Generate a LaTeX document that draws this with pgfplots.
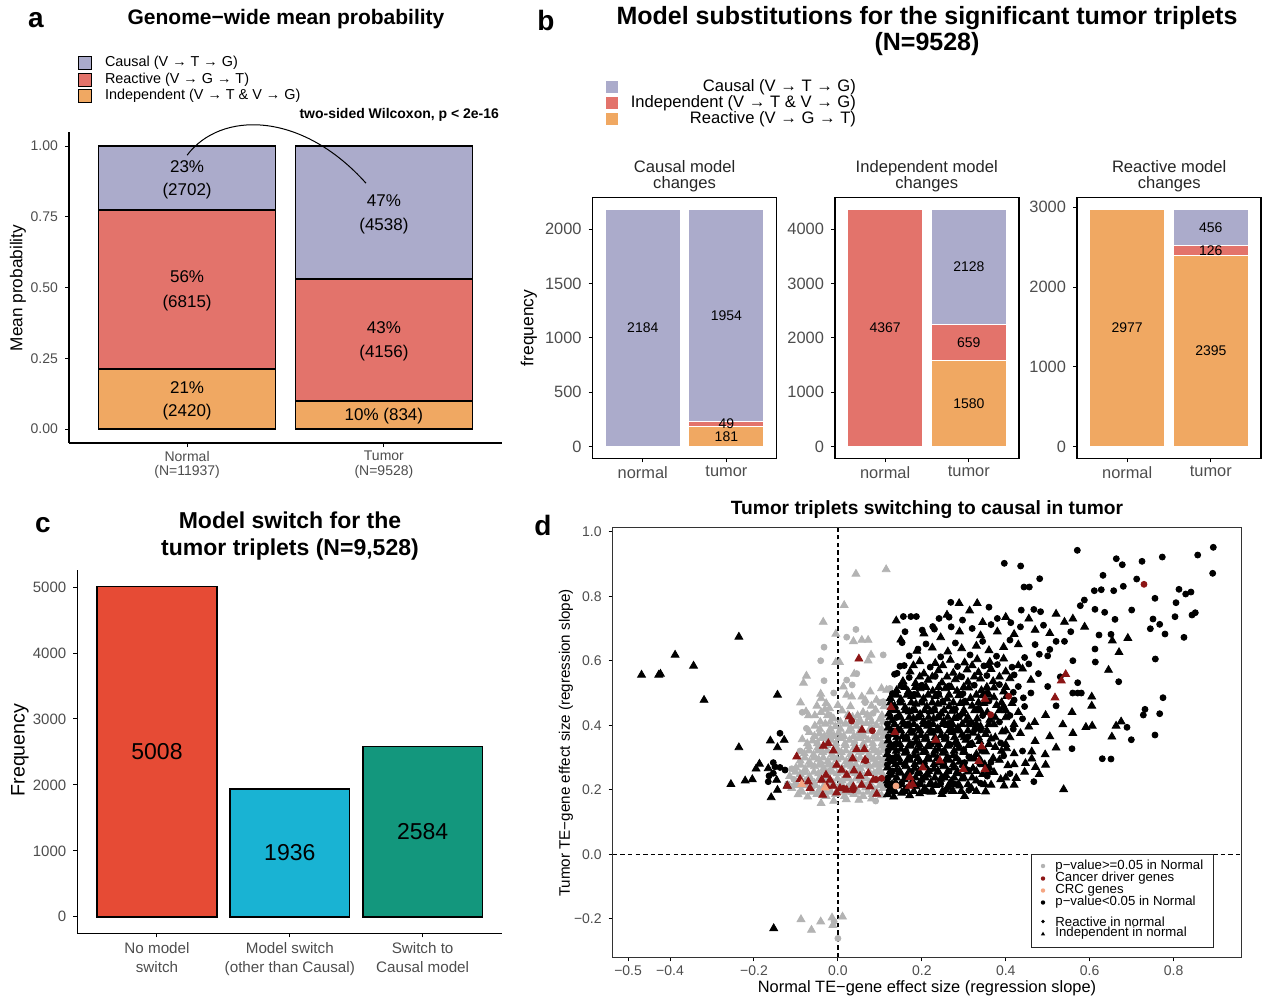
\documentclass[border=0pt]{standalone}
\usepackage{fontspec}
\setmainfont{Liberation Sans}
\usepackage{pgfplots}
\pgfplotsset{compat=1.18}
\definecolor{causal}{HTML}{ABABCB}
\definecolor{salmon}{HTML}{E3736B}
\definecolor{apricot}{HTML}{F0A862}
\definecolor{cred}{HTML}{E64B35}
\definecolor{ccyan}{HTML}{19B3D3}
\definecolor{cteal}{HTML}{13977D}
\definecolor{ptgray}{HTML}{B3B3B3}
\definecolor{ptred}{HTML}{8C1515}
\definecolor{ptorange}{HTML}{F4A582}
\definecolor{tickgray}{HTML}{4D4D4D}
\newcommand\fs[2]{\fontsize{#1pt}{#2pt}\selectfont}
\tikzset{alab/.style={font=\fs{8.5}{9}}, blab/.style={font=\fs{7}{7}}, clab/.style={font=\fs{11.5}{12}},
  dleg/.style={font=\fs{6.6}{7}, anchor=west, inner sep=0pt}}
\pgfplotsset{
  base/.style={scale only axis, enlargelimits=false, scaled ticks=false,
    tick label style={text=tickgray}, major tick length=2pt, tick align=outside,
    /pgf/number format/assume math mode=true,
    major tick style={line width=0.5pt, black}, xtick pos=left, ytick pos=left},
  classic/.style={base, axis x line*=bottom, axis y line*=left,
    x axis line style={-, line width=0.55pt}, y axis line style={-, line width=0.55pt}},
  boxed/.style={base, axis line style={line width=0.6pt}},
}
\begin{document}
\begin{tikzpicture}
\path[use as bounding box] (0,0) rectangle (631.5pt,-498.5pt);
% panel letters
\node[font=\fs{14}{14}\bfseries] at (18pt,-10pt) {a};
\node[font=\fs{14}{14}\bfseries] at (273pt,-10pt) {b};
\node[font=\fs{14}{14}\bfseries] at (21.5pt,-262.5pt) {c};
\node[font=\fs{14}{14}\bfseries] at (271.5pt,-262.5pt) {d};
% ---------------- panel a ----------------
\node[font=\fs{10.5}{11}\bfseries] at (143pt,-9.5pt) {Genome−wide mean probability};
\filldraw[fill=causal, draw=black, line width=0.9pt] (39.25pt,-28.25pt) rectangle (45.75pt,-34.75pt);
\filldraw[fill=salmon, draw=black, line width=0.9pt] (39.25pt,-36.75pt) rectangle (45.75pt,-43.25pt);
\filldraw[fill=apricot, draw=black, line width=0.9pt] (39.25pt,-44.75pt) rectangle (45.75pt,-51.25pt);
\node[font=\fs{7.2}{8}, anchor=west] at (49pt,-31.5pt) {Causal (V → T → G)};
\node[font=\fs{7.2}{8}, anchor=west] at (49pt,-40pt) {Reactive (V → G → T)};
\node[font=\fs{7.2}{8}, anchor=west] at (49pt,-48pt) {Independent (V → T \& V → G)};
\node[font=\fs{7}{8}\bfseries, anchor=east] at (253pt,-57.5pt) {two-sided Wilcoxon, p < 2e-16};
\node[font=\fs{8.6}{9}, rotate=90] at (9pt,-144pt) {Mean probability};
\begin{axis}[classic, at={(34.5pt,-221.5pt)}, anchor=south west, width=216.5pt, height=155.5pt,
  xmin=0.4, xmax=2.6, ymin=-0.0495, ymax=1.05, ybar stacked, bar width=0.9, clip=false,
  xtick={1,2}, xticklabels={Normal\\(N=11937),Tumor\\(N=9528)},
  xticklabel style={align=center, font=\fs{7}{7.2}, yshift=1.5pt},
  ytick={0,0.25,0.5,0.75,1}, yticklabels={0.00,0.25,0.50,0.75,1.00},
  yticklabel style={font=\fs{7}{7.5}}]
\addplot[fill=apricot, draw=black, line width=0.8pt] coordinates {(1,0.213) (2,0.100)};
\addplot[fill=salmon, draw=black, line width=0.8pt] coordinates {(1,0.562) (2,0.430)};
\addplot[fill=causal, draw=black, line width=0.8pt] coordinates {(1,0.225) (2,0.470)};
\end{axis}
\begin{axis}[at={(34.5pt,-221.5pt)}, anchor=south west, scale only axis, width=216.5pt, height=155.5pt,
  xmin=0.4, xmax=2.6, ymin=-0.0495, ymax=1.05, axis lines=none, clip=false]
\draw[line width=0.5pt] (axis cs:1,0.968) .. controls (axis cs:1.17,1.125) and (axis cs:1.58,1.125) .. (axis cs:1.909,0.869);
\node[alab] at (axis cs:1,0.929) {23\%}; \node[alab] at (axis cs:1,0.841) {(2702)};
\node[alab] at (axis cs:1,0.537) {56\%}; \node[alab] at (axis cs:1,0.445) {(6815)};
\node[alab] at (axis cs:1,0.148) {21\%}; \node[alab] at (axis cs:1,0.060) {(2420)};
\node[alab] at (axis cs:2,0.809) {47\%}; \node[alab] at (axis cs:2,0.717) {(4538)};
\node[alab] at (axis cs:2,0.357) {43\%}; \node[alab] at (axis cs:2,0.269) {(4156)};
\node[alab] at (axis cs:2,0.046) {10\% (834)};
\end{axis}
% ---------------- panel b ----------------
\node[font=\fs{12.5}{11.3}\bfseries, align=center] at (463.5pt,-15.5pt) {Model substitutions for the significant tumor triplets\\(N=9528)};
\fill[causal] (303pt,-40.5pt) rectangle (309pt,-46.5pt);
\fill[salmon] (303pt,-48.5pt) rectangle (309pt,-54.5pt);
\fill[apricot] (303pt,-56.5pt) rectangle (309pt,-62.5pt);
\node[font=\fs{8.3}{9}, anchor=east] at (431.5pt,-43.5pt) {Causal (V → T → G)};
\node[font=\fs{8.3}{9}, anchor=east] at (431.5pt,-51.5pt) {Independent (V → T \& V → G)};
\node[font=\fs{8.3}{9}, anchor=east] at (431.5pt,-59.5pt) {Reactive (V → G → T)};
\node[font=\fs{8.3}{8}, align=center, text=black!85] at (342.3pt,-88pt) {Causal model\\changes};
\node[font=\fs{8.3}{8}, align=center, text=black!85] at (463.4pt,-88pt) {Independent model\\changes};
\node[font=\fs{8.3}{8}, align=center, text=black!85] at (584.6pt,-88pt) {Reactive model\\changes};
\node[font=\fs{8.7}{9}, rotate=90] at (264.5pt,-164pt) {frequency};
\pgfplotsset{bsub/.style={boxed, anchor=south west, width=92pt, height=130.5pt,
  xmin=0.4, xmax=2.6, ybar stacked, bar width=0.9,
  xtick={1,2}, xticklabels={normal,tumor}, tick label style={font=\fs{8.2}{9}},
  xticklabel style={yshift=1.5pt}}}
\begin{axis}[bsub, at={(296.3pt,-229.15pt)}, ymin=-109.2, ymax=2293.2,
  ytick={0,500,1000,1500,2000}, yticklabels={0,500,1000,1500,2000}]
\addplot[fill=apricot, draw=white, line width=0.6pt] coordinates {(1,0) (2,181)};
\addplot[fill=salmon, draw=white, line width=0.6pt] coordinates {(1,0) (2,49)};
\addplot[fill=causal, draw=white, line width=0.6pt] coordinates {(1,2184) (2,1954)};
\end{axis}
\begin{axis}[at={(296.3pt,-229.15pt)}, anchor=south west, scale only axis, width=92pt, height=130.5pt,
  xmin=0.4, xmax=2.6, ymin=-109.2, ymax=2293.2, axis lines=none]
\node[blab] at (axis cs:1,1092) {2184}; \node[blab] at (axis cs:2,1207) {1954};
\node[blab] at (axis cs:2,205.5) {49}; \node[blab] at (axis cs:2,90.5) {181};
\end{axis}
\begin{axis}[bsub, at={(417.5pt,-229.15pt)}, ymin=-218.35, ymax=4585.35,
  ytick={0,1000,2000,3000,4000}, yticklabels={0,1000,2000,3000,4000}]
\addplot[fill=apricot, draw=white, line width=0.6pt] coordinates {(1,0) (2,1580)};
\addplot[fill=salmon, draw=white, line width=0.6pt] coordinates {(1,4367) (2,659)};
\addplot[fill=causal, draw=white, line width=0.6pt] coordinates {(1,0) (2,2128)};
\end{axis}
\begin{axis}[at={(417.5pt,-229.15pt)}, anchor=south west, scale only axis, width=92pt, height=130.5pt,
  xmin=0.4, xmax=2.6, ymin=-218.35, ymax=4585.35, axis lines=none]
\node[blab] at (axis cs:1,2183.5) {4367}; \node[blab] at (axis cs:2,3303) {2128};
\node[blab] at (axis cs:2,1909.5) {659}; \node[blab] at (axis cs:2,790) {1580};
\end{axis}
\begin{axis}[bsub, at={(538.5pt,-229.15pt)}, ymin=-148.85, ymax=3125.85,
  ytick={0,1000,2000,3000}, yticklabels={0,1000,2000,3000}]
\addplot[fill=apricot, draw=white, line width=0.6pt] coordinates {(1,2977) (2,2395)};
\addplot[fill=salmon, draw=white, line width=0.6pt] coordinates {(1,0) (2,126)};
\addplot[fill=causal, draw=white, line width=0.6pt] coordinates {(1,0) (2,456)};
\end{axis}
\begin{axis}[at={(538.5pt,-229.15pt)}, anchor=south west, scale only axis, width=92pt, height=130.5pt,
  xmin=0.4, xmax=2.6, ymin=-148.85, ymax=3125.85, axis lines=none]
\node[blab] at (axis cs:1,1488.5) {2977}; \node[blab] at (axis cs:2,2749) {456};
\node[blab] at (axis cs:2,2458) {126}; \node[blab] at (axis cs:2,1197.5) {2395};
\end{axis}
% ---------------- panel c ----------------
\node[font=\fs{11.5}{13.5}\bfseries, align=center] at (145pt,-268pt) {Model switch for the\\tumor triplets (N=9,528)};
\node[font=\fs{9.8}{10}, rotate=90] at (10pt,-375pt) {Frequency};
\begin{axis}[classic, at={(38.65pt,-466.65pt)}, anchor=south west, width=212.5pt, height=181.65pt,
  xmin=0.4, xmax=3.6, ymin=-250.4, ymax=5258.4, ybar, bar width=0.9, bar shift=0pt,
  xtick={1,2,3}, xticklabels={No model\\switch,Model switch\\(other than Causal),Switch to\\Causal model},
  xticklabel style={align=center, font=\fs{7.6}{9.5}, yshift=1pt},
  ytick={0,1000,2000,3000,4000,5000}, yticklabels={0,1000,2000,3000,4000,5000},
  yticklabel style={font=\fs{7.5}{8}}]
\addplot[fill=cred, draw=black, line width=0.8pt] coordinates {(1,5008)};
\addplot[fill=ccyan, draw=black, line width=0.8pt] coordinates {(2,1936)};
\addplot[fill=cteal, draw=black, line width=0.8pt] coordinates {(3,2584)};
\end{axis}
\begin{axis}[at={(38.65pt,-466.65pt)}, anchor=south west, scale only axis, width=212.5pt, height=181.65pt,
  xmin=0.4, xmax=3.6, ymin=-250.4, ymax=5258.4, axis lines=none]
\node[clab] at (axis cs:1,2504) {5008}; \node[clab] at (axis cs:2,968) {1936}; \node[clab] at (axis cs:3,1292) {2584};
\end{axis}
% ---------------- panel d ----------------
\node[font=\fs{9.6}{10}\bfseries] at (463.5pt,-255pt) {Tumor triplets switching to causal in tumor};
\node[font=\fs{8.2}{9}] at (463.5pt,-494pt) {Normal TE−gene effect size (regression slope)};
\node[font=\fs{7.6}{9}, rotate=90] at (283pt,-371.5pt) {Tumor TE−gene effect size (regression slope)};
\pgfplotsset{gc/.style={only marks, mark=*, mark size=1.5pt, color=ptgray},
  gt/.style={only marks, mark=triangle*, mark size=2.25pt, color=ptgray},
  kc/.style={only marks, mark=*, mark size=1.5pt, color=black},
  kt/.style={only marks, mark=triangle*, mark size=2.25pt, color=black},
  rc/.style={only marks, mark=*, mark size=1.5pt, color=ptred},
  rt/.style={only marks, mark=triangle*, mark size=2.25pt, color=ptred}}
\begin{axis}[boxed, at={(306.35pt,-478.65pt)}, anchor=south west, width=314.3pt, height=214.8pt,
  xmin=-0.5367, xmax=0.9614, ymin=-0.3197, ymax=1.0124,
  axis line style={line width=0.6pt, black!80},
  xtick={-0.5,-0.4,-0.2,0,0.2,0.4,0.6,0.8}, xticklabels={−0.5,−0.4,−0.2,0.0,0.2,0.4,0.6,0.8},
  ytick={-0.2,0,0.2,0.4,0.6,0.8,1.0}, yticklabels={−0.2,0.0,0.2,0.4,0.6,0.8,1.0},
  tick label style={font=\fs{7}{8}}, xticklabel style={yshift=1.5pt}]
% gray circles
\addplot[gc] coordinates {(-0.041,0.600) (0.043,0.697) (0.021,0.673) (-0.033,0.642) (0.108,0.618)
 (-0.033,0.538) (0.021,0.540) (0.034,0.525) (0.100,0.470) (0.124,0.514) (0.084,0.437) (0.108,0.473)
 (0.000,-0.261) (-0.009,-0.209) (-0.105,0.232) (-0.060,0.210) (0.005,0.212) (0.070,0.215) (-0.080,0.255)
 (-0.020,0.258) (0.048,0.258) (0.100,0.256) (-0.040,0.280) (0.030,0.280) (0.095,0.280) (-0.090,0.320)
 (-0.005,0.322) (0.062,0.322) (-0.050,0.345) (0.040,0.345) (0.110,0.345) (-0.020,0.368) (0.060,0.368)
 (-0.075,0.390) (0.030,0.390) (0.080,0.392) (-0.020,0.432) (0.050,0.412) (-0.110,0.265) (-0.120,0.218)
 (0.112,0.300) (0.112,0.380) (0.110,0.225) (-0.030,0.190) (0.030,0.192) (0.090,0.165) (-0.085,0.440)
 (0.065,0.470) (-0.010,0.500) (0.045,0.560)};
% gray triangles
\addplot[gt] coordinates {(0.115,0.883) (0.043,0.869) (0.015,0.772) (-0.035,0.720) (-0.005,0.683)
 (0.037,0.660) (0.057,0.664) (0.072,0.664) (-0.005,0.595) (0.004,0.595) (0.079,0.618) (0.072,0.600)
 (-0.075,0.553) (-0.082,0.531) (0.039,0.559) (-0.089,0.470) (-0.076,0.442) (-0.041,0.497) (-0.040,0.483)
 (-0.028,0.468) (-0.031,0.449) (-0.020,0.452) (0.013,0.519) (0.021,0.494) (0.033,0.488) (0.057,0.488)
 (0.065,0.478) (0.077,0.504) (0.092,0.478) (0.104,0.514) (0.116,0.509)
 (-0.088,-0.202) (-0.063,-0.235) (-0.041,-0.209) (-0.014,-0.197) (-0.012,-0.220) (0.011,-0.194)
 (-0.040,0.158) (-0.010,0.165) (0.020,0.170) (0.050,0.168) (0.080,0.172)
 (-0.095,0.185) (-0.072,0.178) (-0.050,0.186) (-0.028,0.180) (-0.006,0.186) (0.016,0.180) (0.038,0.186) (0.060,0.180) (0.082,0.186) (0.104,0.182)
 (-0.110,0.205) (-0.088,0.198) (-0.066,0.206) (-0.044,0.200) (-0.022,0.206) (0.000,0.200) (0.022,0.206) (0.044,0.200) (0.066,0.206) (0.088,0.200) (0.108,0.205)
 (-0.100,0.222) (-0.078,0.226) (-0.056,0.220) (-0.034,0.228) (-0.012,0.222) (0.010,0.228) (0.032,0.222) (0.054,0.228) (0.076,0.222) (0.098,0.228)
 (-0.115,0.242) (-0.090,0.248) (-0.068,0.242) (-0.046,0.250) (-0.024,0.242) (-0.002,0.250) (0.020,0.242) (0.042,0.250) (0.064,0.242) (0.086,0.250) (0.108,0.244)
 (-0.100,0.268) (-0.078,0.264) (-0.056,0.272) (-0.034,0.266) (-0.012,0.272) (0.010,0.266) (0.032,0.272) (0.054,0.266) (0.076,0.272) (0.098,0.266)
 (-0.090,0.290) (-0.068,0.286) (-0.046,0.294) (-0.024,0.288) (-0.002,0.294) (0.020,0.288) (0.042,0.294) (0.064,0.288) (0.086,0.294) (0.106,0.290)
 (-0.080,0.312) (-0.058,0.308) (-0.036,0.316) (-0.014,0.310) (0.008,0.316) (0.030,0.310) (0.052,0.316) (0.074,0.310) (0.096,0.316)
 (-0.070,0.334) (-0.048,0.330) (-0.026,0.338) (-0.004,0.332) (0.018,0.338) (0.040,0.332) (0.062,0.338) (0.084,0.332) (0.106,0.336)
 (-0.085,0.356) (-0.060,0.352) (-0.038,0.360) (-0.016,0.354) (0.006,0.360) (0.028,0.354) (0.050,0.360) (0.072,0.354) (0.094,0.358)
 (-0.068,0.378) (-0.044,0.374) (-0.020,0.380) (0.002,0.376) (0.026,0.382) (0.050,0.376) (0.074,0.382) (0.098,0.376)
 (-0.055,0.398) (-0.030,0.404) (-0.006,0.396) (0.018,0.404) (0.044,0.398) (0.068,0.406) (0.092,0.400)
 (-0.010,0.420) (0.035,0.425) (0.075,0.425) (0.100,0.418) (-0.040,0.440) (0.010,0.445) (0.060,0.440) (0.090,0.447) (-0.070,0.430)};
% gray triangles, dense core
\addplot[gt] coordinates {
 (-0.085,0.193) (-0.061,0.193) (-0.039,0.193) (-0.017,0.193) (0.005,0.193) (0.027,0.193) (0.049,0.193) (0.071,0.193) (0.093,0.193)
 (-0.099,0.213) (-0.077,0.213) (-0.055,0.213) (-0.033,0.213) (-0.011,0.213) (0.011,0.213) (0.033,0.213) (0.055,0.213) (0.077,0.213) (0.099,0.213)
 (-0.089,0.234) (-0.067,0.234) (-0.045,0.234) (-0.023,0.234) (-0.001,0.234) (0.021,0.234) (0.043,0.234) (0.065,0.234) (0.087,0.234) (0.109,0.234)
 (-0.101,0.255) (-0.079,0.255) (-0.057,0.255) (-0.035,0.255) (-0.013,0.255) (0.009,0.255) (0.031,0.255) (0.053,0.255) (0.075,0.255) (0.097,0.255)
 (-0.089,0.277) (-0.067,0.277) (-0.045,0.277) (-0.023,0.277) (-0.001,0.277) (0.021,0.277) (0.043,0.277) (0.065,0.277) (0.087,0.277) (0.109,0.277)
 (-0.079,0.299) (-0.057,0.299) (-0.035,0.299) (-0.013,0.299) (0.009,0.299) (0.031,0.299) (0.053,0.299) (0.075,0.299) (0.097,0.299)
 (-0.069,0.321) (-0.047,0.321) (-0.025,0.321) (-0.003,0.321) (0.019,0.321) (0.041,0.321) (0.063,0.321) (0.085,0.321) (0.107,0.321)
 (-0.073,0.343) (-0.049,0.343) (-0.027,0.343) (-0.005,0.343) (0.017,0.343) (0.039,0.343) (0.061,0.343) (0.083,0.343) (0.105,0.343)
 (-0.056,0.366) (-0.032,0.366) (-0.009,0.366) (0.014,0.366) (0.038,0.366) (0.062,0.366) (0.086,0.366) (0.108,0.366)
 (-0.043,0.388) (-0.018,0.388) (0.006,0.388) (0.031,0.388) (0.056,0.388) (0.080,0.388) (0.104,0.388)
 (-0.042,0.410) (-0.018,0.410) (0.006,0.410) (0.030,0.410) (0.055,0.410) (0.080,0.410) (0.108,0.410)
 (-0.055,0.430) (-0.025,0.430) (0.024,0.432) (0.047,0.430) (0.070,0.432) (0.105,0.430)
 (-0.050,0.460) (0.000,0.462) (0.030,0.458) (0.080,0.460) (0.110,0.458)};
% black circles
\addplot[kc] coordinates {(0.5706,0.9423) (0.3966,0.902) (0.4356,0.8937) (0.4809,0.8543) (0.4435,0.8285)
 (0.4562,0.8285) (0.6318,0.8648) (0.6635,0.9163) (0.6778,0.8977) (0.7248,0.9082) (0.7731,0.9215)
 (0.8575,0.9277) (0.8947,0.9516) (0.8932,0.8710) (0.7121,0.8533) (0.6111,0.8171) (0.6277,0.8202)
 (0.6573,0.8171) (0.6802,0.8307) (0.7557,0.7935) (0.8129,0.8214) (0.8289,0.8068) (0.8415,0.8130)
 (0.8058,0.7799) (0.7002,0.7572) (0.6127,0.7594) (0.6358,0.7501) (0.5777,0.7706) (0.5873,0.7882)
 (0.6604,0.7283) (0.7510,0.7293) (0.7669,0.7128) (0.7446,0.6992) (0.7796,0.6828) (0.8034,0.7365)
 (0.8518,0.7489) (0.8439,0.7417) (0.8248,0.6725) (0.6223,0.6797) (0.6509,0.6818) (0.6127,0.6363)
 (0.6135,0.5960) (0.7565,0.6053) (0.6692,0.5349) (0.7748,0.4853) (0.7319,0.4493) (0.7279,0.4316)
 (0.7669,0.4357) (0.6890,0.3935) (0.6993,0.3550) (0.7557,0.3696) (0.5579,0.3271) (0.6301,0.2961)
 (0.6509,0.2952) (0.5596,0.4998) (0.5715,0.4998) (0.5801,0.4998) (0.5715,0.5318) (0.467,0.225)
 (-0.138,0.375) (-0.154,0.284) (-0.150,0.271) (-0.138,0.269) (-0.126,0.261) (-0.164,0.243) (-0.166,0.225) (-0.154,0.251)
 (0.141,0.561) (0.148,0.583) (0.153,0.656) (0.191,0.636)
 (0.126,0.195) (0.160,0.198) (0.210,0.196) (0.258,0.200) (0.312,0.198)
 (0.118,0.215) (0.152,0.220) (0.196,0.218) (0.245,0.219) (0.278,0.218) (0.340,0.220)
 (0.120,0.238) (0.160,0.240) (0.204,0.238) (0.250,0.240) (0.298,0.240) (0.356,0.242) (0.410,0.250)
 (0.130,0.258) (0.175,0.256) (0.218,0.258) (0.265,0.258) (0.312,0.260) (0.338,0.280)
 (0.118,0.278) (0.160,0.280) (0.206,0.282) (0.252,0.280) (0.302,0.284) (0.365,0.285)
 (0.130,0.298) (0.172,0.300) (0.216,0.300) (0.262,0.300) (0.312,0.302) (0.395,0.305)
 (0.120,0.322) (0.162,0.320) (0.205,0.322) (0.252,0.320) (0.300,0.324) (0.342,0.325) (0.440,0.320)
 (0.134,0.340) (0.176,0.342) (0.222,0.340) (0.268,0.340) (0.318,0.344) (0.388,0.345)
 (0.120,0.364) (0.164,0.362) (0.210,0.362) (0.258,0.362) (0.310,0.364) (0.340,0.385)
 (0.132,0.382) (0.178,0.382) (0.226,0.382) (0.274,0.384) (0.326,0.386) (0.418,0.388)
 (0.118,0.404) (0.168,0.404) (0.216,0.406) (0.266,0.406) (0.318,0.408) (0.385,0.410)
 (0.140,0.424) (0.192,0.426) (0.240,0.426) (0.290,0.428) (0.345,0.430) (0.410,0.430)
 (0.128,0.450) (0.180,0.448) (0.230,0.450) (0.280,0.450) (0.335,0.452) (0.395,0.455) (0.445,0.458)
 (0.148,0.472) (0.200,0.472) (0.250,0.474) (0.302,0.474) (0.360,0.475) (0.420,0.478)
 (0.130,0.498) (0.182,0.496) (0.240,0.498) (0.298,0.498) (0.356,0.500) (0.418,0.502) (0.442,0.485)
 (0.150,0.522) (0.200,0.524) (0.265,0.522) (0.325,0.524) (0.385,0.526) (0.430,0.520)
 (0.135,0.558) (0.170,0.548) (0.232,0.552) (0.295,0.550) (0.355,0.554) (0.420,0.556) (0.478,0.560)
 (0.158,0.585) (0.220,0.580) (0.285,0.582) (0.348,0.584) (0.380,0.588) (0.415,0.580) (0.455,0.590)
 (0.170,0.615) (0.245,0.612) (0.315,0.618) (0.378,0.614) (0.445,0.610) (0.500,0.615)
 (0.210,0.652) (0.280,0.655) (0.345,0.660) (0.410,0.664) (0.470,0.650) (0.540,0.660) (0.505,0.635)
 (0.160,0.690) (0.230,0.698) (0.270,0.705) (0.320,0.700) (0.365,0.712) (0.435,0.705) (0.490,0.710) (0.555,0.690)
 (0.156,0.737) (0.174,0.737) (0.187,0.737) (0.241,0.731) (0.265,0.735) (0.297,0.726) (0.380,0.731)
 (0.412,0.718) (0.269,0.781) (0.360,0.766) (0.437,0.757) (0.467,0.759) (0.483,0.752) (0.201,0.695) (0.226,0.706)
 (0.440,0.420) (0.520,0.460) (0.500,0.520) (0.460,0.500) (0.530,0.550) (0.560,0.600) (0.480,0.620) (0.520,0.660)};
% black triangles
\addplot[kt] coordinates {(-0.468,0.556) (-0.427,0.556) (-0.423,0.559) (-0.388,0.618) (-0.344,0.584)
 (-0.319,0.478) (-0.236,0.674) (-0.144,0.494) (-0.236,0.331) (-0.255,0.217) (-0.221,0.228) (-0.204,0.232)
 (-0.187,0.280) (-0.195,0.265) (-0.161,0.352) (-0.144,0.331) (-0.128,0.354) (-0.166,0.266) (-0.146,0.230)
 (-0.144,0.199) (-0.159,0.176) (-0.121,0.212) (-0.153,-0.230)
 (0.118,0.185) (0.133,0.178) (0.152,0.190) (0.171,0.182) (0.195,0.188) (0.222,0.193) (0.248,0.186) (0.275,0.195) (0.302,0.180) (0.352,0.194) (0.396,0.212)
 (0.125,0.205) (0.142,0.212) (0.163,0.202) (0.186,0.210) (0.207,0.204) (0.233,0.214) (0.262,0.207) (0.290,0.212) (0.318,0.205) (0.365,0.215)
 (0.118,0.228) (0.137,0.222) (0.158,0.232) (0.178,0.225) (0.199,0.230) (0.221,0.222) (0.245,0.233) (0.270,0.226) (0.296,0.234) (0.330,0.228) (0.388,0.232) (0.425,0.236)
 (0.128,0.246) (0.149,0.252) (0.170,0.243) (0.192,0.250) (0.214,0.246) (0.238,0.255) (0.258,0.244) (0.284,0.250) (0.310,0.256) (0.345,0.248) (0.372,0.254)
 (0.118,0.268) (0.140,0.262) (0.162,0.272) (0.183,0.266) (0.206,0.274) (0.229,0.264) (0.252,0.272) (0.276,0.268) (0.300,0.276) (0.322,0.266) (0.360,0.270) (0.405,0.275) (0.447,0.282)
 (0.126,0.288) (0.148,0.284) (0.171,0.292) (0.195,0.286) (0.217,0.294) (0.241,0.284) (0.265,0.292) (0.290,0.286) (0.318,0.296) (0.340,0.290) (0.385,0.292)
 (0.118,0.310) (0.138,0.304) (0.160,0.314) (0.182,0.306) (0.204,0.316) (0.228,0.308) (0.250,0.314) (0.275,0.306) (0.300,0.316) (0.330,0.310) (0.352,0.318) (0.420,0.312) (0.462,0.318)
 (0.128,0.330) (0.150,0.326) (0.172,0.336) (0.194,0.328) (0.216,0.334) (0.240,0.326) (0.262,0.336) (0.288,0.328) (0.312,0.338) (0.375,0.332) (0.402,0.328)
 (0.120,0.352) (0.140,0.346) (0.162,0.356) (0.186,0.348) (0.208,0.356) (0.232,0.348) (0.256,0.356) (0.280,0.346) (0.305,0.354) (0.338,0.350) (0.365,0.358) (0.410,0.362)
 (0.132,0.372) (0.154,0.366) (0.176,0.376) (0.198,0.368) (0.222,0.376) (0.246,0.368) (0.272,0.378) (0.296,0.370) (0.322,0.376) (0.352,0.372) (0.392,0.380) (0.435,0.375)
 (0.120,0.392) (0.144,0.388) (0.166,0.398) (0.190,0.390) (0.214,0.398) (0.238,0.390) (0.262,0.400) (0.286,0.392) (0.312,0.402) (0.340,0.396) (0.372,0.402) (0.455,0.395)
 (0.130,0.414) (0.155,0.410) (0.180,0.420) (0.204,0.412) (0.228,0.420) (0.252,0.412) (0.278,0.422) (0.305,0.414) (0.332,0.420) (0.362,0.416) (0.400,0.424)
 (0.122,0.436) (0.146,0.432) (0.170,0.442) (0.196,0.434) (0.220,0.442) (0.246,0.436) (0.272,0.444) (0.298,0.436) (0.326,0.446) (0.356,0.440) (0.385,0.446) (0.430,0.440)
 (0.135,0.460) (0.160,0.455) (0.186,0.466) (0.212,0.458) (0.238,0.466) (0.265,0.458) (0.292,0.468) (0.320,0.460) (0.348,0.468) (0.378,0.462) (0.415,0.468)
 (0.125,0.484) (0.150,0.480) (0.176,0.490) (0.204,0.482) (0.232,0.490) (0.260,0.482) (0.288,0.492) (0.316,0.484) (0.345,0.492) (0.372,0.486) (0.402,0.490)
 (0.140,0.508) (0.168,0.504) (0.196,0.514) (0.226,0.506) (0.256,0.514) (0.284,0.506) (0.312,0.516) (0.342,0.508) (0.372,0.516) (0.395,0.504)
 (0.155,0.536) (0.185,0.530) (0.215,0.540) (0.248,0.532) (0.280,0.542) (0.310,0.534) (0.340,0.544) (0.370,0.536) (0.410,0.545) (0.460,0.540)
 (0.172,0.566) (0.205,0.560) (0.240,0.570) (0.275,0.562) (0.308,0.572) (0.335,0.564) (0.365,0.574) (0.400,0.566) (0.440,0.575)
 (0.195,0.598) (0.232,0.592) (0.268,0.602) (0.302,0.594) (0.332,0.604) (0.362,0.596) (0.395,0.606)
 (0.188,0.630) (0.225,0.640) (0.262,0.628) (0.295,0.638) (0.330,0.646) (0.360,0.632) (0.395,0.642) (0.430,0.650)
 (0.150,0.665) (0.205,0.684) (0.245,0.672) (0.290,0.690) (0.340,0.678) (0.380,0.690) (0.420,0.682) (0.470,0.695) (0.505,0.685)
 (0.139,0.724) (0.289,0.778) (0.332,0.778) (0.314,0.755) (0.345,0.719) (0.260,0.742) (0.400,0.735) (0.455,0.730) (0.520,0.745) (0.540,0.720)
 (0.469,0.409) (0.495,0.431) (0.536,0.402) (0.591,0.394) (0.606,0.398) (0.494,0.309) (0.471,0.270) (0.495,0.277)
 (0.462,0.296) (0.538,0.201) (0.605,0.488) (0.605,0.460) (0.558,0.440) (0.470,0.350) (0.505,0.365) (0.445,0.255)
 (0.420,0.215) (0.480,0.248) (0.520,0.330) (0.560,0.375)
 (0.654,0.662) (0.670,0.626) (0.645,0.571) (0.691,0.670) (0.663,0.398) (0.675,0.411) (0.653,0.364) (0.588,0.705) (0.560,0.730)};
% black triangles, dense core
\addplot[kt] coordinates {
 (0.136,0.195) (0.158,0.195) (0.181,0.195) (0.203,0.195) (0.226,0.195) (0.249,0.195) (0.272,0.195) (0.294,0.195) (0.330,0.195)
 (0.129,0.216) (0.151,0.216) (0.174,0.216) (0.197,0.216) (0.219,0.216) (0.242,0.216) (0.265,0.216) (0.287,0.216) (0.310,0.216) (0.350,0.216)
 (0.140,0.237) (0.162,0.237) (0.185,0.237) (0.208,0.237) (0.231,0.237) (0.254,0.237) (0.277,0.237) (0.300,0.237) (0.320,0.237) (0.400,0.237)
 (0.125,0.257) (0.147,0.257) (0.170,0.257) (0.193,0.257) (0.216,0.257) (0.239,0.257) (0.262,0.257) (0.285,0.257) (0.330,0.257) (0.360,0.257)
 (0.137,0.278) (0.160,0.278) (0.183,0.278) (0.206,0.278) (0.229,0.278) (0.252,0.278) (0.275,0.278) (0.298,0.278) (0.350,0.278) (0.420,0.278)
 (0.122,0.298) (0.145,0.298) (0.168,0.298) (0.191,0.298) (0.214,0.298) (0.237,0.298) (0.260,0.298) (0.283,0.298) (0.325,0.298) (0.370,0.298)
 (0.139,0.320) (0.162,0.320) (0.185,0.320) (0.208,0.320) (0.231,0.320) (0.254,0.320) (0.277,0.320) (0.300,0.320) (0.345,0.320) (0.390,0.320)
 (0.125,0.341) (0.148,0.341) (0.171,0.341) (0.194,0.341) (0.217,0.341) (0.240,0.341) (0.263,0.341) (0.286,0.341) (0.320,0.341) (0.360,0.341) (0.400,0.341)
 (0.140,0.362) (0.163,0.362) (0.186,0.362) (0.209,0.362) (0.232,0.362) (0.255,0.362) (0.278,0.362) (0.301,0.362) (0.335,0.362) (0.375,0.362)
 (0.127,0.383) (0.150,0.383) (0.173,0.383) (0.196,0.383) (0.219,0.383) (0.242,0.383) (0.265,0.383) (0.288,0.383) (0.310,0.383) (0.355,0.383) (0.400,0.383)
 (0.135,0.403) (0.158,0.403) (0.181,0.403) (0.204,0.403) (0.227,0.403) (0.250,0.403) (0.273,0.403) (0.296,0.403) (0.330,0.403) (0.360,0.403) (0.420,0.403)
 (0.124,0.424) (0.147,0.424) (0.170,0.424) (0.193,0.424) (0.216,0.424) (0.239,0.424) (0.262,0.424) (0.285,0.424) (0.310,0.424) (0.375,0.424)
 (0.138,0.446) (0.161,0.446) (0.184,0.446) (0.207,0.446) (0.230,0.446) (0.253,0.446) (0.276,0.446) (0.300,0.446) (0.340,0.446) (0.400,0.446)
 (0.125,0.470) (0.150,0.470) (0.175,0.470) (0.200,0.470) (0.225,0.470) (0.250,0.470) (0.275,0.470) (0.305,0.470) (0.335,0.470) (0.390,0.470)
 (0.140,0.494) (0.165,0.494) (0.190,0.494) (0.215,0.494) (0.240,0.494) (0.265,0.494) (0.290,0.494) (0.330,0.494) (0.360,0.494)
 (0.160,0.518) (0.185,0.518) (0.210,0.518) (0.240,0.518) (0.270,0.518) (0.300,0.518) (0.355,0.518) (0.400,0.518)
 (0.195,0.550) (0.225,0.550) (0.260,0.550) (0.290,0.550) (0.325,0.550) (0.385,0.550)
 (0.180,0.585) (0.250,0.585) (0.320,0.585) (0.360,0.585) (0.430,0.585)};
% cancer driver genes
\addplot[rc] coordinates {(0.7295,0.8369) (0.4070,0.4896) (0.3641,0.4326) (0.0329,0.4130) (0.0820,0.3830)
 (0.0663,0.2899) (0.0908,0.2322) (0.1044,0.2353) (0.0129,0.2043) (0.0367,0.1991)};
\addplot[rt] coordinates {(0.050,0.606) (0.5429,0.5578) (0.5325,0.5380) (0.5174,0.4853) (0.3506,0.4812)
 (0.2331,0.3541) (0.3427,0.3333) (0.2433,0.2899) (0.2021,0.2682) (0.2989,0.2633) (0.3355,0.2881)
 (0.3506,0.2633) (0.1718,0.2384) (0.1266,0.4555) (0.1361,0.378) (0.170,0.2115) (0.178,0.2167)
 (0.0272,0.4264) (0.0574,0.3851) (-0.0348,0.3355) (-0.0229,0.3439) (-0.0110,0.3209) (0.0448,0.3253)
 (0.0629,0.3253) (-0.0982,0.3023) (0.0352,0.2961) (0.0646,0.2921) (-0.0029,0.2766) (0.0091,0.2611)
 (0.0384,0.2590) (0.0210,0.2456) (0.0527,0.2425) (0.0725,0.2508) (0.0844,0.2301) (-0.0284,0.2456)
 (-0.0188,0.2301) (-0.0386,0.2301) (-0.0267,0.2115) (-0.0903,0.2322) (-0.0705,0.2249) (-0.1206,0.2115)
 (-0.0665,0.2043) (-0.0362,0.1836) (-0.0110,0.2115) (0.0050,0.2043) (0.0210,0.1991) (0.0367,0.2094)
 (0.0567,0.2146) (0.0765,0.2094) (0.0925,0.1867) (-0.0029,0.1907)};
% CRC genes
\addplot[only marks, mark=*, mark size=1.5pt, color=ptorange] coordinates {(0.1385,0.2115)};
\addplot[only marks, mark=triangle*, mark size=2.25pt, color=ptorange] coordinates {(-0.0863,0.2167) (-0.0307,0.2063)};
% reference lines
\addplot[black, line width=0.6pt, dash pattern=on 2.2pt off 1.6pt] coordinates {(0,-0.3197) (0,1.0124)};
\addplot[black, line width=0.6pt, dash pattern=on 2.2pt off 1.6pt] coordinates {(-0.5367,0) (0.9614,0)};
\end{axis}
% legend d
\filldraw[fill=white, draw=black!85, line width=0.5pt] (515.85pt,-427pt) rectangle (606.65pt,-473.65pt);
\fill[ptgray] (521.5pt,-433pt) circle (1.1pt);
\fill[ptred] (521.5pt,-439.25pt) circle (1.1pt);
\fill[ptorange] (521.5pt,-445.25pt) circle (1.1pt);
\fill[black] (521.5pt,-451.25pt) circle (1.1pt);
\fill[black] (521.5pt,-460.75pt) circle (0.9pt);
\fill[black] (520.45pt,-467.65pt) -- (522.55pt,-467.65pt) -- (521.5pt,-465.85pt) -- cycle;
\node[dleg] at (527.5pt,-433pt) {p−value>=0.05 in Normal};
\node[dleg] at (527.5pt,-439.25pt) {Cancer driver genes};
\node[dleg] at (527.5pt,-445.25pt) {CRC genes};
\node[dleg] at (527.5pt,-451.25pt) {p−value<0.05 in Normal};
\node[dleg] at (527.5pt,-460.75pt) {Reactive in normal};
\node[dleg] at (527.5pt,-466.75pt) {Independent in normal};
\end{tikzpicture}
\end{document}
